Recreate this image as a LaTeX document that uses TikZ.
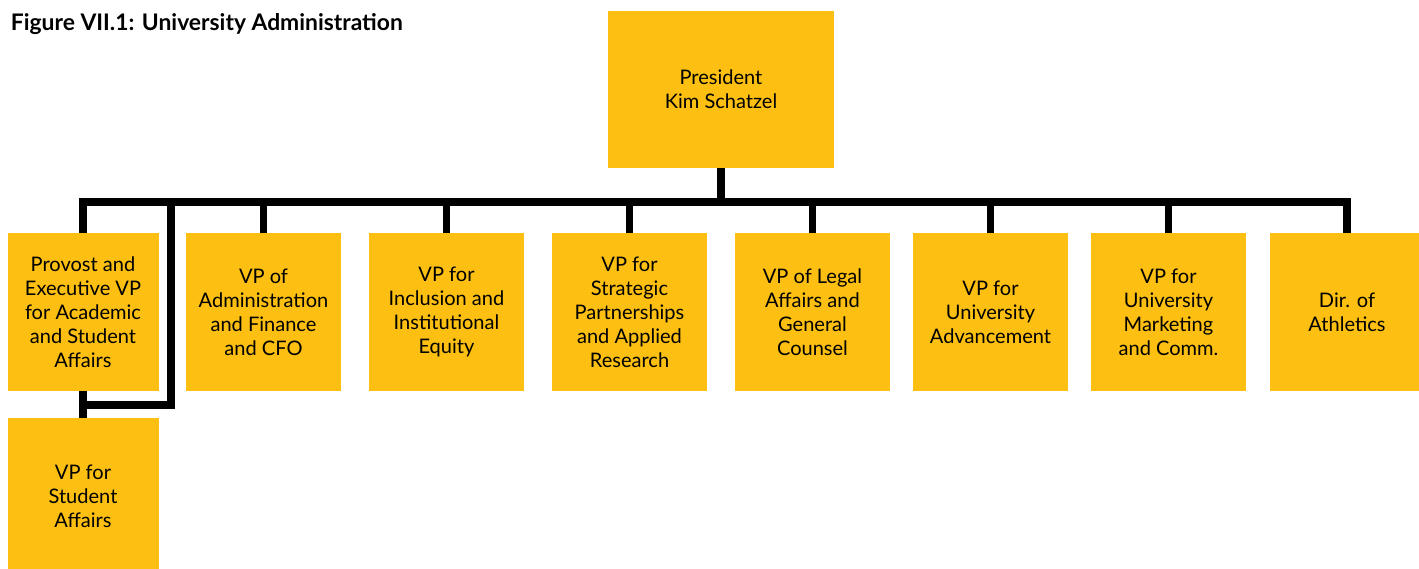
\documentclass[tikz,border=0pt]{standalone}
\usepackage{fontspec}
\setmainfont{Lato}
\usepackage{tikz}
\usetikzlibrary{positioning}

\definecolor{gold}{HTML}{FCBF12}

\begin{document}
\begin{tikzpicture}[font=\fontsize{11.4}{13.6}\selectfont,node distance=0.56cm,line width=4.5pt]
	
	\tikzset{node st/.style={rectangle, draw=none, fill=gold,
			minimum width=3.1cm, minimum height=3.16cm,
			inner sep=0pt, outer sep=0pt, align=center, text=black}}
	
	\useasboundingbox (0,0) rectangle (28.38,-11.36);
	
	\node[anchor=base west, inner sep=0pt, font=\fontsize{13}{15}\selectfont\bfseries] (T) at (0.14,-0.6) {Figure VII.1: University Administration};
	
	\node[node st, minimum width=4.52cm, minimum height=3.14cm] (P) at (14.42,-1.79) {President\\Kim Schatzel};
	
	\node[node st, minimum width=3.02cm] (Pv) at (1.66,-6.24) {Provost and\\Executive VP\\for Academic\\and Student\\Affairs};
	\node[node st, right=0.55cm of Pv] (A) {VP of\\Administration\\and Finance\\and CFO};
	\node[node st, right=of A] (I) {VP for\\Inclusion and\\Institutional\\Equity};
	\node[node st, right=of I] (S) {VP for\\Strategic\\Partnerships\\and Applied\\Research};
	\node[node st, right=of S] (L) {VP of Legal\\Affairs and\\General\\Counsel};
	\node[node st, right=0.46cm of L] (U) {VP for\\University\\Advancement};
	\node[node st, right=0.46cm of U] (M) {VP for\\University\\Marketing\\and Comm.};
	\node[node st, right=0.47cm of M] (D) {Dir. of\\Athletics};
	
	\node[node st, minimum width=3.02cm, minimum height=3.14cm, below=0.54cm of Pv] (Sa) {VP for\\Student\\Affairs};
	
	\coordinate (bar) at (0,-4.04);
	\coordinate (el) at (3.42,-4.04);
	\coordinate (lo) at (3.42,-8.1);
	
	\draw (P.south) -- (P.south |- bar);
	\draw (Pv.north) -- (Pv.north |- bar) -| (D.north);
	\foreach \n in {A, I, S, L, U, M}
	\draw (\n.north) -- (\n.north |- bar);
	
	\draw (el) -- (lo) -- (lo -| Pv.south);
	\draw (Pv.south) -- (Sa.north);
	
\end{tikzpicture}
\end{document}
